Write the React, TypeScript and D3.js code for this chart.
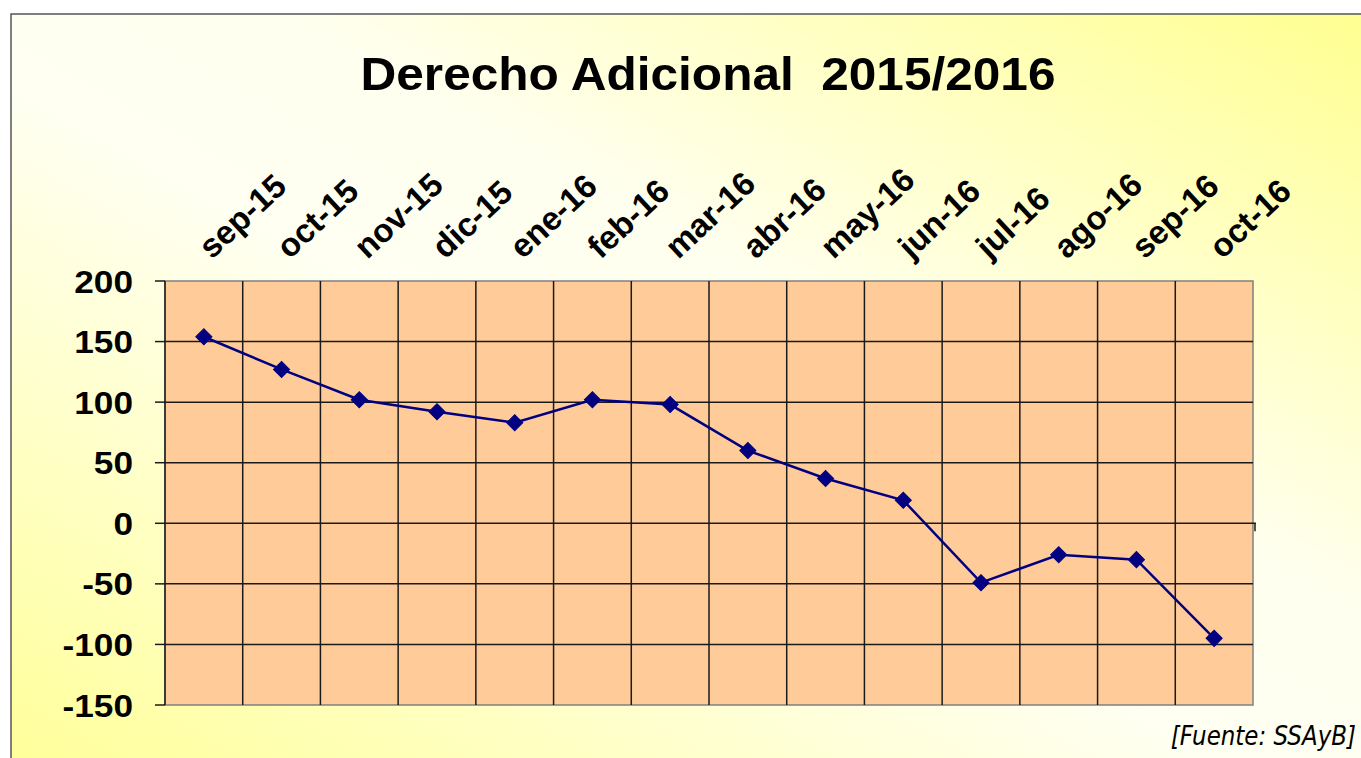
import React from 'react';
import * as d3 from 'd3';

const months = ['sep-15', 'oct-15', 'nov-15', 'dic-15', 'ene-16', 'feb-16', 'mar-16', 'abr-16', 'may-16', 'jun-16', 'jul-16', 'ago-16', 'sep-16', 'oct-16'];
const values = [154, 127, 102, 92, 83, 102, 98, 60, 37, 19, -49, -26, -30, -95];
const yTicks = [-150, -100, -50, 0, 50, 100, 150, 200];

const W = 1361;
const H = 758;
const margin = { top: 281, right: 108, bottom: 53, left: 165 };

export default function App() {
	const x = d3.scaleBand<string>()
		.domain(months)
		.range([margin.left, W - margin.right])
		.padding(0);
	const y = d3.scaleLinear()
		.domain([-150, 200])
		.range([H - margin.bottom, margin.top]);

	const cx = (m: string) => (x(m) as number) + x.bandwidth() / 2;

	const line = d3.line<number>()
		.x((d, i) => cx(months[i]))
		.y(d => y(d));

	// square turned 45 degrees, like the excel marker
	const marker = d3.symbol().type(d3.symbolSquare).size(130)();

	const x0 = margin.left;
	const x1 = W - margin.right;
	const y0 = margin.top;
	const y1 = H - margin.bottom;

	return (
		<svg width={W} height={H} style={{ position: 'absolute', left: 0, top: 0 }}>
			<defs>
				<linearGradient id="bg" x1="0" y1="1" x2="1" y2="0">
					<stop offset="0" stopColor="#ffff99" />
					<stop offset="0.45" stopColor="#fffff2" />
					<stop offset="0.6" stopColor="#fffff0" />
					<stop offset="1" stopColor="#ffff90" />
				</linearGradient>
			</defs>
			<rect x={0} y={0} width={W} height={H} fill="#fff" />
			<rect x={11} y={14} width={W} height={H} fill="url(#bg)" stroke="#555" strokeWidth={1.5} />

			{/* title */}
			<text x={708} y={90} textAnchor="middle" textLength={695} lengthAdjust="spacingAndGlyphs"
				style={{ whiteSpace: 'pre' }}
				fontFamily="Liberation Sans, Arial, sans-serif" fontWeight="bold" fontSize={47} fill="#000">
				{'Derecho Adicional  2015/2016'}
			</text>

			{/* plot area */}
			<rect x={x0} y={y0} width={x1 - x0} height={y1 - y0} fill="#ffcc99" stroke="#808080" strokeWidth={1.5} />

			{/* horizontal grid */}
			{yTicks.slice(1, -1).map(t => (
				<line key={'h' + t} x1={x0} x2={t === 0 ? x1 + 3 : x1} y1={y(t)} y2={y(t)} stroke="#1a1a1a" strokeWidth={1.5} />
			))}
			{/* vertical grid */}
			{months.slice(1).map(m => (
				<line key={'v' + m} x1={x(m)} x2={x(m)} y1={y0} y2={y1} stroke="#1a1a1a" strokeWidth={1.5} />
			))}
			<line x1={x1 + 2} x2={x1 + 2} y1={y(0)} y2={y(0) + 8} stroke="#1a1a1a" strokeWidth={1.5} />

			{/* y axis */}
			<line x1={x0} x2={x0} y1={y0} y2={y1} stroke="#1a1a1a" strokeWidth={1.5} />
			{yTicks.map(t => (
				<g key={'y' + t}>
					<line x1={x0 - 10} x2={x0} y1={y(t)} y2={y(t)} stroke="#1a1a1a" strokeWidth={1.5} />
					<text transform={`translate(133,${y(t)}) scale(1.1,1)`} dy="0.36em" textAnchor="end"
						fontFamily="Liberation Sans, Arial, sans-serif" fontWeight="bold" fontSize={32} fill="#000">
						{t}
					</text>
				</g>
			))}

			{/* category labels */}
			{months.map(m => (
				<text key={'x' + m} transform={`translate(${cx(m) + 8},${260}) rotate(-43)`}
					fontFamily="Liberation Sans, Arial, sans-serif" fontWeight="bold" fontSize={33} fill="#000">
					{m}
				</text>
			))}

			{/* series */}
			<path d={line(values) as string} fill="none" stroke="#000080" strokeWidth={2.5} />
			{values.map((v, i) => (
				<path key={'p' + i} d={marker as string} transform={`translate(${cx(months[i])},${y(v)}) rotate(45)`} fill="#000080" stroke="#000080" strokeWidth={1} />
			))}

			<text transform="translate(1356,745) scale(1,1.12)" textAnchor="end"
				fontFamily="DejaVu Sans, Verdana, sans-serif" fontStyle="italic" fontSize={23} fill="#000">
				[Fuente: SSAyB]
			</text>
		</svg>
	);
}
